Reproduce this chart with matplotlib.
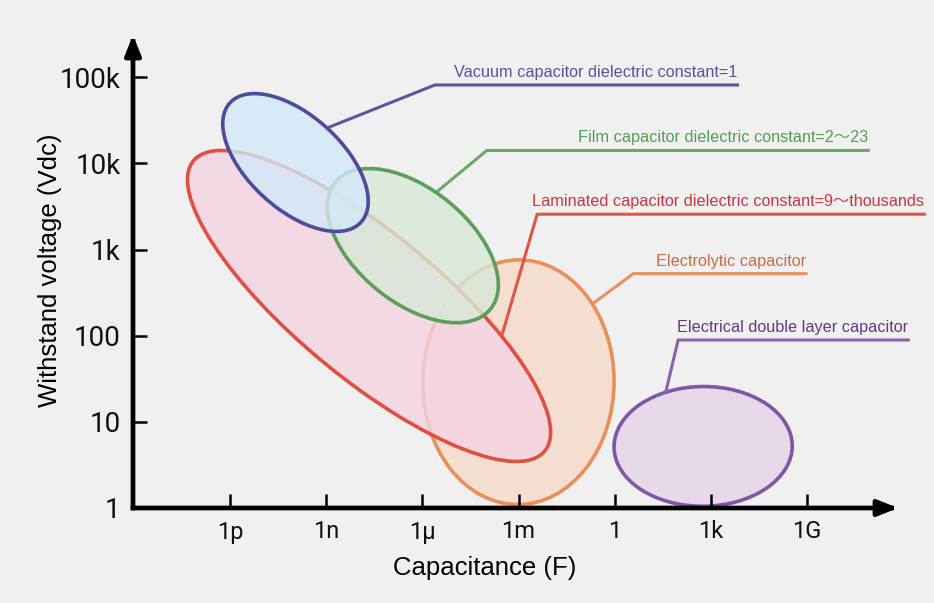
import numpy as np
import matplotlib
matplotlib.use("Agg")
import matplotlib.pyplot as plt
from matplotlib.patches import Ellipse

# axis ticks (positions in decades as drawn on the chart)
x_ticks = [-12, -9, -6, -3, 0, 3, 6]
x_labels = ["1p", "1n", "1\u03bc", "1m", "1", "1k", "1G"]
y_ticks = [0, 1, 2, 3, 4, 5]
y_labels = ["1", "10", "100", "1k", "10k", "100k"]

# capacitor regions, drawn bottom to top
names = ["Electrolytic capacitor",
         "Laminated capacitor dielectric constant=9\uff5ethousands",
         "Film capacitor dielectric constant=2\uff5e23",
         "Vacuum capacitor dielectric constant=1",
         "Electrical double layer capacitor"]
cap_lo = [-5.99, -13.33, -8.97, -12.23, -0.02]
cap_hi = [-0.02, -2.00, -3.63, -7.69, 5.54]
volt_lo = [0.04, 0.54, 2.15, 3.21, 0.02]
volt_hi = [2.88, 4.15, 3.94, 4.81, 1.41]
volt_at_left = [1.45, 3.81, 3.50, 4.46, 0.71]   # voltage where region reaches lowest capacitance

# label leaders
leader_start = [(-0.69, 2.37), (-3.53, 1.99), (-5.55, 3.67), (-8.98, 4.41), (1.59, 1.34)]
leader_bend = [(0.58, 2.72), (-2.42, 3.41), (-3.99, 4.15), (-5.61, 4.91), (1.98, 1.95)]
leader_end = [6.02, 9.71, 7.96, 3.88, 9.21]

edge_colors = ["#e8905c", "#e05040", "#5c9e5c", "#4e4a9c", "#7e58a6"]
face_colors = ["#f7d9c9", "#f5d4e2", "#d8e9d8", "#d3e9f9", "#e5d3e9"]
line_colors = ["#e8905e", "#e05545", "#6aa86a", "#5d54a4", "#8a62aa"]
text_colors = ["#d0683f", "#cc3540", "#4ea04e", "#5a50a0", "#5c3a86"]

bg = "#f0f0f0"
fig = plt.figure(figsize=(9.34, 6.03), dpi=100, facecolor=bg)
ax = fig.add_axes([133 / 934, 95 / 603, 765 / 934, 473 / 603], facecolor=bg)

for i in range(len(names)):
    cx = (cap_lo[i] + cap_hi[i]) / 2
    cy = (volt_lo[i] + volt_hi[i]) / 2
    hx = (cap_hi[i] - cap_lo[i]) / 2
    hy = (volt_hi[i] - volt_lo[i]) / 2
    cxy = -(volt_at_left[i] - cy) * hx
    vals, vecs = np.linalg.eigh(np.array([[hx * hx, cxy], [cxy, hy * hy]]))
    ang = np.degrees(np.arctan2(vecs[1, 1], vecs[0, 1]))
    e = Ellipse((cx, cy), 2 * np.sqrt(vals[1]), 2 * np.sqrt(vals[0]), angle=ang,
                facecolor=matplotlib.colors.to_rgba(face_colors[i], 0.8),
                edgecolor=edge_colors[i], lw=2.6, zorder=2 + i)
    ax.add_patch(e)

    xs = [leader_start[i][0], leader_bend[i][0], leader_end[i]]
    ys = [leader_start[i][1], leader_bend[i][1], leader_bend[i][1]]
    ax.plot(xs, ys, color=line_colors[i], lw=2.2, clip_on=False, zorder=10,
            solid_capstyle="butt")
    ax.annotate(names[i], xy=(leader_end[i], leader_bend[i][1]), xytext=(-1, 5.8),
                textcoords="offset points", ha="right", va="baseline",
                color=text_colors[i], fontsize=11.7,
                family=["Liberation Sans", "Noto Sans CJK JP", "DejaVu Sans"],
                annotation_clip=False, zorder=11)

ax.set_xlim(-15.03, 8.84)
ax.set_ylim(0, 5.49)

for s in ax.spines.values():
    s.set_visible(False)

arrow = dict(arrowstyle="-|>,head_length=0.4,head_width=0.16", lw=3.4, color="black",
             shrinkA=0, shrinkB=0, mutation_scale=30, capstyle="projecting")
ax.annotate("", xy=(1, 0), xytext=(0, 0), xycoords="axes fraction", arrowprops=arrow,
            annotation_clip=False, zorder=20)
ax.annotate("", xy=(0, 1), xytext=(0, 0), xycoords="axes fraction", arrowprops=arrow,
            annotation_clip=False, zorder=20)

tick_font = ["Roboto", "DejaVu Sans"]
ax.set_xticks(x_ticks)
ax.set_xticklabels(x_labels, fontsize=17, family=tick_font, color="#111111")
ax.set_yticks(y_ticks)
ax.set_yticklabels(y_labels, fontsize=20, family=tick_font, color="#111111")
ax.tick_params(direction="in", length=10, width=1.8, color="black", pad=9)
ax.xaxis.set_zorder(20)
ax.yaxis.set_zorder(20)

ax.set_xlabel("Capacitance (F)", fontsize=18.5, family="Liberation Sans")
ax.set_ylabel("Withstand voltage (Vdc)", fontsize=18.5, family="Liberation Sans")
ax.xaxis.set_label_coords(0.46, -0.102)
ax.yaxis.set_label_coords(-0.093, 0.503)

fig.savefig("out.png", dpi=100, facecolor=bg)
